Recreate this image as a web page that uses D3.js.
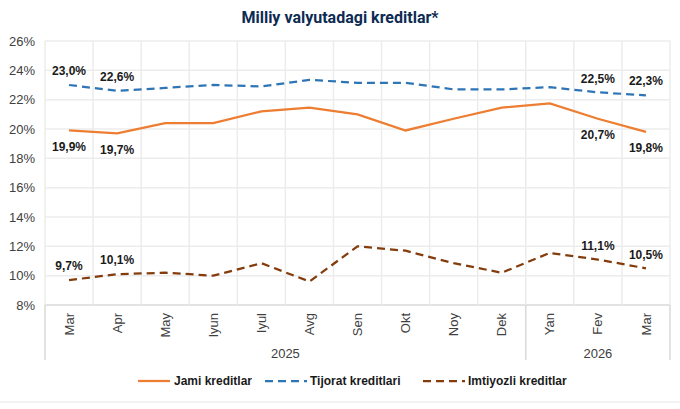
<!DOCTYPE html>
<html>
<head>
<meta charset="utf-8">
<script src="https://cdn.jsdelivr.net/npm/d3@7"></script>
<style>
  body { margin: 0; background: #fff; }
  svg { display: block; font-family: "Liberation Sans", Arial, sans-serif; }
</style>
</head>
<body>
<div id="chart"></div>
<script>
// data
var months = ["Mar", "Apr", "May", "Iyun", "Iyul", "Avg", "Sen", "Okt", "Noy", "Dek", "Yan", "Fev", "Mar"];
var yearLabels = ["2025", "2026"];
var yearSpans = [10, 3];
var jami = [19.9, 19.7, 20.4, 20.4, 21.2, 21.45, 21.0, 19.9, 20.7, 21.45, 21.75, 20.7, 19.8];
var tijorat = [23.0, 22.6, 22.8, 23.0, 22.9, 23.35, 23.15, 23.15, 22.7, 22.7, 22.85, 22.5, 22.3];
var imtiyozli = [9.7, 10.1, 10.2, 10.0, 10.85, 9.6, 12.0, 11.7, 10.85, 10.2, 11.55, 11.1, 10.5];
var yTicks = [8, 10, 12, 14, 16, 18, 20, 22, 24, 26];

var W = 680, H = 409;
var plotLeft = 45, plotRight = 670, plotTop = 41, plotBottom = 305;

var svg = d3.select("#chart").append("svg")
    .attr("width", W).attr("height", H);

var x = d3.scaleBand().domain(d3.range(months.length)).range([plotLeft, plotRight]);
var y = d3.scaleLinear().domain([8, 26]).range([plotBottom, plotTop]);

function fmt(v) { return v.toFixed(1).replace(".", ",") + "%"; }

// title
svg.append("text")
    .attr("x", 340).attr("y", 23)
    .attr("text-anchor", "middle")
    .style("font-family", "Roboto, sans-serif")
    .style("font-weight", "bold")
    .style("font-size", "16px")
    .style("fill", "#0d2b52")
    .text("Milliy valyutadagi kreditlar*");

// grid
var grid = svg.append("g");
grid.selectAll(".hg").data(yTicks).enter().append("line")
    .attr("x1", plotLeft).attr("x2", plotRight)
    .attr("y1", function (d) { return y(d); })
    .attr("y2", function (d) { return y(d); })
    .attr("stroke", function (d) { return d === 8 ? "#d9d9d9" : "#ececec"; })
    .attr("stroke-width", 1.5);
grid.selectAll(".vg").data(d3.range(months.length + 1)).enter().append("line")
    .attr("x1", function (i) { return plotLeft + i * x.step(); })
    .attr("x2", function (i) { return plotLeft + i * x.step(); })
    .attr("y1", plotTop).attr("y2", plotBottom)
    .attr("stroke", "#ececec")
    .attr("stroke-width", 1.5);

// y axis labels
svg.append("g").selectAll("text").data(yTicks).enter().append("text")
    .attr("x", 35)
    .attr("y", function (d) { return y(d); })
    .attr("dy", "0.35em")
    .attr("text-anchor", "end")
    .style("font-size", "13px")
    .style("fill", "#404040")
    .text(function (d) { return d + "%"; });

// x axis labels
svg.append("g").selectAll("text").data(months).enter().append("text")
    .attr("transform", function (d, i) {
        return "translate(" + (x(i) + x.bandwidth() / 2) + "," + (plotBottom + 8) + ") rotate(-90)";
    })
    .attr("dy", "0.35em")
    .attr("text-anchor", "end")
    .style("font-size", "13px")
    .style("fill", "#404040")
    .text(function (d) { return d; });

// year groups
var start = 0;
var bounds = [0];
yearSpans.forEach(function (n) { start += n; bounds.push(start); });
svg.append("g").selectAll("line").data(bounds).enter().append("line")
    .attr("x1", function (b) { return plotLeft + b * x.step(); })
    .attr("x2", function (b) { return plotLeft + b * x.step(); })
    .attr("y1", plotBottom).attr("y2", 360)
    .attr("stroke", "#d9d9d9")
    .attr("stroke-width", 1.5);
svg.append("g").selectAll("text").data(yearLabels).enter().append("text")
    .attr("x", function (d, i) { return plotLeft + (bounds[i] + bounds[i + 1]) / 2 * x.step(); })
    .attr("y", 353)
    .attr("dy", "0.35em")
    .attr("text-anchor", "middle")
    .style("font-size", "13px")
    .style("fill", "#404040")
    .text(function (d) { return d; });

// series
var series = [
    { name: "Jami kreditlar", values: jami, color: "#ed7d31", dash: null, labelDy: 16 },
    { name: "Tijorat kreditlari", values: tijorat, color: "#2e75b6", dash: "8,5", labelDy: -14 },
    { name: "Imtiyozli kreditlar", values: imtiyozli, color: "#843c0c", dash: "8,5", labelDy: -14 }
];

var line = d3.line()
    .x(function (d, i) { return x(i) + x.bandwidth() / 2; })
    .y(function (d) { return y(d); });

series.forEach(function (s) {
    svg.append("path")
        .datum(s.values)
        .attr("d", line)
        .attr("fill", "none")
        .attr("stroke", s.color)
        .attr("stroke-width", 2.25)
        .attr("stroke-dasharray", s.dash);

    var idx = [0, 1, s.values.length - 2, s.values.length - 1];
    svg.append("g").selectAll("text").data(idx).enter().append("text")
        .attr("x", function (i) { return x(i) + x.bandwidth() / 2; })
        .attr("y", function (i) { return y(s.values[i]) + s.labelDy; })
        .attr("dy", "0.35em")
        .attr("text-anchor", "middle")
        .style("font-size", "12px")
        .style("font-weight", "bold")
        .style("fill", "#1a1a1a")
        .text(function (i) { return fmt(s.values[i]); });
});

// legend
var legX = [138, 265, 423];
var leg = svg.append("g").selectAll("g").data(series).enter().append("g")
    .attr("transform", function (d, i) { return "translate(" + legX[i] + ",381)"; });
leg.append("line")
    .attr("x1", 0).attr("x2", function (d, i) { return i === 0 ? 32 : 42; })
    .attr("stroke", function (d) { return d.color; })
    .attr("stroke-width", 2.25)
    .attr("stroke-dasharray", function (d) { return d.dash; });
leg.append("text")
    .attr("x", function (d, i) { return i === 0 ? 36 : 45; })
    .attr("dy", "0.35em")
    .style("font-size", "12px")
    .style("font-weight", "bold")
    .style("fill", "#1a1a1a")
    .text(function (d) { return d.name; });

// bottom border
svg.append("line")
    .attr("x1", 0).attr("x2", W).attr("y1", 402).attr("y2", 402)
    .attr("stroke", "#eeeeee").attr("stroke-width", 1.5);
</script>
</body>
</html>
